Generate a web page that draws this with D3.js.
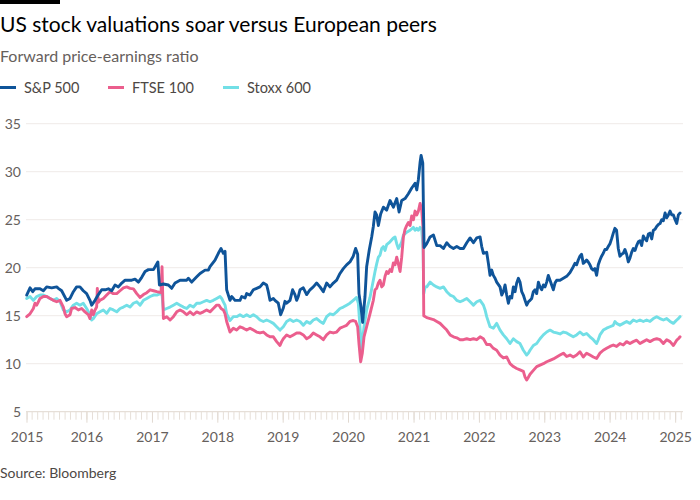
<!DOCTYPE html>
<html><head><meta charset="utf-8">
<script src="https://cdn.jsdelivr.net/npm/d3@7/dist/d3.min.js"></script>
<style>
html,body{margin:0;padding:0;background:#fff;}
svg{display:block;font-family:Lato,"Noto Sans",sans-serif;}
</style></head>
<body>
<script>
// ---------- DATA (decimal year, forward P/E) ----------
const seriesNames = ["S&P 500", "FTSE 100", "Stoxx 600"];
const yTicks = [5, 10, 15, 20, 25, 30, 35];
const xTickLabels = ["2015","2016","2017","2018","2019","2020","2021","2022","2023","2024","2025"];
const xDomain = [2015.083, 2025.12];

const sp500 = [[2015.086,17.15],[2015.137,17.9],[2015.178,17.5],[2015.213,17.8],[2015.290,17.8],[2015.341,17.6],[2015.392,18.0],[2015.468,17.9],[2015.545,18.0],[2015.570,17.85],[2015.621,17.6],[2015.698,16.6],[2015.749,16.8],[2015.800,17.5],[2015.850,18.0],[2015.901,18.0],[2015.952,17.6],[2016.003,17.3],[2016.054,16.6],[2016.080,16.1],[2016.131,16.6],[2016.182,17.2],[2016.233,17.7],[2016.284,17.7],[2016.335,17.8],[2016.386,17.6],[2016.437,18.2],[2016.488,18.0],[2016.539,18.4],[2016.590,18.7],[2016.692,18.7],[2016.742,18.8],[2016.793,18.5],[2016.844,19.0],[2016.895,19.6],[2016.946,19.8],[2017.023,19.8],[2017.090,20.6],[2017.114,18.2],[2017.175,18.3],[2017.251,18.2],[2017.302,17.85],[2017.353,18.4],[2017.430,18.7],[2017.532,18.7],[2017.557,18.9],[2017.608,18.5],[2017.685,19.05],[2017.736,19.4],[2017.812,19.75],[2017.863,19.75],[2017.888,20.1],[2017.965,20.8],[2018.016,21.5],[2018.057,22.0],[2018.092,21.5],[2018.118,21.7],[2018.143,17.7],[2018.194,16.6],[2018.220,17.0],[2018.271,16.6],[2018.347,16.6],[2018.373,17.0],[2018.424,16.85],[2018.449,17.3],[2018.500,17.15],[2018.551,17.7],[2018.602,17.85],[2018.653,18.0],[2018.704,18.4],[2018.755,18.2],[2018.780,17.5],[2018.806,16.6],[2018.857,16.8],[2018.882,16.6],[2018.933,16.3],[2018.969,15.1],[2019.010,15.8],[2019.035,16.5],[2019.061,16.3],[2019.112,16.6],[2019.152,17.7],[2019.188,17.2],[2019.214,16.6],[2019.239,17.0],[2019.265,17.7],[2019.316,17.9],[2019.367,17.2],[2019.418,17.7],[2019.469,18.0],[2019.520,18.4],[2019.571,18.0],[2019.622,17.5],[2019.673,18.4],[2019.724,18.0],[2019.775,18.4],[2019.826,18.7],[2019.877,19.4],[2019.928,19.9],[2019.978,20.3],[2020.029,20.6],[2020.080,21.2],[2020.116,22.0],[2020.147,21.4],[2020.167,17.3],[2020.198,15.9],[2020.223,14.3],[2020.259,17.0],[2020.284,20.1],[2020.325,21.9],[2020.361,23.2],[2020.386,24.3],[2020.412,25.8],[2020.437,25.5],[2020.463,24.4],[2020.498,25.6],[2020.539,26.3],[2020.590,26.0],[2020.641,27.0],[2020.692,26.3],[2020.743,27.2],[2020.779,25.8],[2020.819,27.0],[2020.870,27.2],[2020.921,27.7],[2020.972,28.3],[2021.023,28.8],[2021.049,28.1],[2021.074,29.2],[2021.100,31.0],[2021.115,31.7],[2021.141,30.9],[2021.151,26.3],[2021.161,22.1],[2021.202,22.5],[2021.253,23.2],[2021.304,23.4],[2021.355,22.3],[2021.406,22.3],[2021.457,22.0],[2021.508,22.6],[2021.559,22.2],[2021.610,22.0],[2021.661,22.2],[2021.712,22.0],[2021.763,22.0],[2021.814,22.6],[2021.865,23.1],[2021.916,22.6],[2021.967,23.1],[2022.018,23.2],[2022.043,22.2],[2022.069,21.5],[2022.119,21.6],[2022.145,20.45],[2022.170,19.2],[2022.196,19.75],[2022.221,19.2],[2022.247,18.9],[2022.272,18.5],[2022.323,18.0],[2022.349,17.15],[2022.374,17.5],[2022.400,18.2],[2022.425,17.15],[2022.451,16.3],[2022.476,17.0],[2022.502,16.85],[2022.527,18.0],[2022.553,17.5],[2022.578,18.4],[2022.604,18.9],[2022.629,18.5],[2022.655,17.5],[2022.680,17.15],[2022.706,16.6],[2022.731,16.1],[2022.757,16.45],[2022.782,16.6],[2022.808,16.8],[2022.833,17.5],[2022.859,17.7],[2022.884,17.3],[2022.910,18.5],[2022.935,18.0],[2022.961,17.7],[2022.986,18.2],[2023.012,18.0],[2023.037,18.5],[2023.062,19.2],[2023.088,18.7],[2023.113,18.2],[2023.139,17.7],[2023.164,18.4],[2023.190,18.7],[2023.241,18.7],[2023.292,18.9],[2023.343,19.1],[2023.394,19.5],[2023.444,20.1],[2023.469,20.45],[2023.495,20.3],[2023.520,20.8],[2023.546,21.2],[2023.571,21.4],[2023.597,20.45],[2023.622,20.6],[2023.648,20.8],[2023.673,20.6],[2023.699,20.3],[2023.724,19.9],[2023.750,19.75],[2023.775,19.9],[2023.801,19.2],[2023.826,20.3],[2023.852,20.8],[2023.877,21.2],[2023.903,21.5],[2023.928,21.9],[2023.954,21.9],[2023.979,22.2],[2024.005,22.5],[2024.030,23.0],[2024.056,23.6],[2024.081,24.1],[2024.106,23.9],[2024.132,22.0],[2024.157,21.2],[2024.183,21.4],[2024.208,21.5],[2024.234,21.9],[2024.259,21.4],[2024.285,20.6],[2024.310,21.0],[2024.336,21.6],[2024.361,22.0],[2024.387,21.8],[2024.412,22.3],[2024.438,22.7],[2024.463,22.8],[2024.489,22.3],[2024.514,23.3],[2024.540,23.0],[2024.565,22.8],[2024.591,23.5],[2024.616,23.6],[2024.642,23.0],[2024.667,23.9],[2024.693,24.0],[2024.718,24.3],[2024.744,24.5],[2024.769,24.6],[2024.795,25.0],[2024.820,24.9],[2024.846,25.7],[2024.871,25.2],[2024.897,25.5],[2024.922,25.9],[2024.948,25.5],[2024.973,25.5],[2024.999,25.0],[2025.024,24.6],[2025.049,25.5],[2025.075,25.7]];

const ftse100 = [[2015.086,14.9],[2015.137,15.2],[2015.188,15.75],[2015.213,16.3],[2015.239,16.1],[2015.264,16.45],[2015.290,16.8],[2015.341,17.0],[2015.392,17.0],[2015.443,16.8],[2015.494,16.6],[2015.545,16.45],[2015.596,16.6],[2015.647,15.9],[2015.672,15.2],[2015.698,14.9],[2015.749,15.1],[2015.774,15.75],[2015.825,15.85],[2015.876,15.6],[2015.927,15.75],[2015.978,15.4],[2016.029,15.1],[2016.054,14.7],[2016.080,15.6],[2016.105,15.1],[2016.131,15.6],[2016.156,15.9],[2016.166,17.85],[2016.182,16.4],[2016.207,16.6],[2016.258,16.8],[2016.309,17.15],[2016.360,17.5],[2016.411,17.3],[2016.462,17.3],[2016.513,17.6],[2016.564,17.9],[2016.615,18.0],[2016.666,17.85],[2016.717,17.8],[2016.768,17.3],[2016.819,16.9],[2016.870,17.2],[2016.921,17.4],[2016.972,17.7],[2017.023,17.6],[2017.074,17.5],[2017.139,17.4],[2017.154,20.1],[2017.165,17.0],[2017.175,14.7],[2017.226,14.9],[2017.277,14.55],[2017.328,14.9],[2017.379,15.4],[2017.430,15.6],[2017.481,15.4],[2017.532,15.1],[2017.583,15.4],[2017.634,15.1],[2017.685,15.4],[2017.736,15.25],[2017.787,15.4],[2017.837,15.6],[2017.888,15.4],[2017.939,15.75],[2017.990,16.1],[2018.026,16.1],[2018.057,15.75],[2018.092,15.6],[2018.118,15.2],[2018.143,14.4],[2018.169,13.85],[2018.194,13.3],[2018.245,13.7],[2018.296,13.5],[2018.347,13.85],[2018.398,13.7],[2018.449,13.5],[2018.500,13.7],[2018.551,13.5],[2018.602,13.3],[2018.653,13.2],[2018.704,13.3],[2018.755,13.0],[2018.806,12.8],[2018.857,12.8],[2018.908,12.3],[2018.959,11.9],[2018.984,12.3],[2019.010,12.6],[2019.061,13.0],[2019.112,12.8],[2019.163,13.0],[2019.214,13.2],[2019.265,13.2],[2019.316,13.0],[2019.367,12.6],[2019.418,12.8],[2019.469,13.2],[2019.520,13.0],[2019.571,12.8],[2019.622,12.5],[2019.673,13.0],[2019.724,13.3],[2019.775,13.2],[2019.826,13.3],[2019.877,13.7],[2019.928,13.85],[2019.978,14.0],[2020.029,14.4],[2020.080,14.5],[2020.116,14.4],[2020.147,13.85],[2020.167,12.1],[2020.193,10.2],[2020.218,11.1],[2020.244,12.8],[2020.284,13.85],[2020.335,15.2],[2020.386,16.6],[2020.412,17.7],[2020.437,17.85],[2020.463,18.4],[2020.488,18.7],[2020.514,18.0],[2020.539,18.2],[2020.565,19.1],[2020.590,19.6],[2020.615,19.4],[2020.641,19.8],[2020.666,19.6],[2020.692,20.5],[2020.717,20.3],[2020.743,21.1],[2020.768,20.4],[2020.794,19.6],[2020.819,21.1],[2020.845,23.2],[2020.870,24.0],[2020.896,24.4],[2020.921,24.7],[2020.947,24.4],[2020.972,25.4],[2020.998,25.0],[2021.023,25.9],[2021.049,25.5],[2021.074,25.9],[2021.100,26.7],[2021.125,26.0],[2021.146,24.0],[2021.156,15.0],[2021.202,14.8],[2021.253,14.7],[2021.304,14.6],[2021.355,14.4],[2021.406,14.2],[2021.457,13.85],[2021.508,13.5],[2021.559,13.0],[2021.610,12.8],[2021.661,12.7],[2021.712,12.5],[2021.763,12.5],[2021.814,12.6],[2021.865,12.5],[2021.916,12.6],[2021.967,12.5],[2022.018,12.8],[2022.069,12.6],[2022.094,12.3],[2022.119,12.0],[2022.170,12.0],[2022.221,11.6],[2022.272,11.4],[2022.323,10.9],[2022.374,10.6],[2022.425,10.7],[2022.476,10.0],[2022.527,9.7],[2022.578,9.5],[2022.629,9.35],[2022.680,9.2],[2022.706,8.6],[2022.731,8.3],[2022.757,8.6],[2022.782,8.9],[2022.833,9.3],[2022.884,9.7],[2022.935,9.85],[2022.986,10.0],[2023.037,10.2],[2023.088,10.35],[2023.139,10.5],[2023.190,10.7],[2023.241,10.9],[2023.292,11.1],[2023.343,10.75],[2023.394,10.9],[2023.444,10.7],[2023.495,10.9],[2023.546,11.25],[2023.597,10.7],[2023.648,11.1],[2023.699,10.9],[2023.750,10.7],[2023.801,10.55],[2023.852,11.1],[2023.903,11.4],[2023.954,11.6],[2024.005,11.8],[2024.056,11.95],[2024.106,11.8],[2024.157,12.1],[2024.208,11.95],[2024.259,12.3],[2024.310,12.1],[2024.361,12.3],[2024.412,12.45],[2024.463,12.1],[2024.514,12.3],[2024.565,12.5],[2024.616,12.3],[2024.667,12.5],[2024.718,12.6],[2024.769,12.5],[2024.820,12.1],[2024.871,12.5],[2024.922,12.3],[2024.973,11.9],[2025.024,12.45],[2025.049,12.6],[2025.075,12.8]];

const stoxx600 = [[2015.086,16.8],[2015.137,17.0],[2015.188,16.6],[2015.239,17.0],[2015.290,17.15],[2015.341,17.15],[2015.392,17.0],[2015.443,16.8],[2015.494,16.6],[2015.545,16.8],[2015.596,16.45],[2015.647,15.6],[2015.698,15.4],[2015.749,15.6],[2015.800,16.1],[2015.850,16.3],[2015.901,16.1],[2015.952,16.3],[2016.003,15.75],[2016.054,15.1],[2016.080,14.55],[2016.105,14.7],[2016.156,15.2],[2016.207,15.4],[2016.258,15.6],[2016.309,15.25],[2016.360,15.75],[2016.411,15.6],[2016.462,15.4],[2016.513,15.75],[2016.564,15.9],[2016.615,16.1],[2016.666,15.9],[2016.717,16.3],[2016.768,16.45],[2016.819,16.1],[2016.870,16.6],[2016.921,16.8],[2016.972,17.0],[2017.023,17.15],[2017.074,17.15],[2017.124,17.3],[2017.154,17.2],[2017.175,15.6],[2017.226,15.75],[2017.277,15.9],[2017.328,16.1],[2017.379,16.3],[2017.430,16.1],[2017.481,15.9],[2017.532,15.75],[2017.583,16.1],[2017.634,15.9],[2017.685,16.3],[2017.736,16.3],[2017.787,16.45],[2017.837,16.6],[2017.888,16.45],[2017.939,16.6],[2017.990,16.8],[2018.041,17.0],[2018.067,16.8],[2018.092,16.45],[2018.118,16.1],[2018.143,15.2],[2018.194,14.5],[2018.245,14.9],[2018.296,14.9],[2018.347,15.1],[2018.398,14.9],[2018.449,15.1],[2018.500,14.9],[2018.551,15.1],[2018.602,14.9],[2018.653,14.55],[2018.704,14.4],[2018.755,14.55],[2018.806,14.4],[2018.857,14.2],[2018.908,13.85],[2018.959,13.5],[2019.010,13.85],[2019.061,14.4],[2019.112,14.6],[2019.163,14.4],[2019.214,14.55],[2019.265,14.4],[2019.316,14.0],[2019.367,14.4],[2019.418,14.2],[2019.469,14.55],[2019.520,14.7],[2019.571,14.4],[2019.622,14.2],[2019.673,14.9],[2019.724,15.2],[2019.775,15.1],[2019.826,15.4],[2019.877,15.75],[2019.928,15.9],[2019.978,16.1],[2020.029,16.3],[2020.080,16.6],[2020.106,16.75],[2020.131,16.9],[2020.157,16.3],[2020.182,13.85],[2020.208,11.5],[2020.244,13.85],[2020.284,15.6],[2020.335,16.9],[2020.386,18.7],[2020.412,19.6],[2020.437,20.4],[2020.463,21.1],[2020.488,21.3],[2020.514,22.0],[2020.539,22.2],[2020.565,21.8],[2020.590,22.4],[2020.641,22.7],[2020.692,23.1],[2020.717,23.2],[2020.743,22.5],[2020.768,22.0],[2020.794,22.3],[2020.819,22.7],[2020.845,23.4],[2020.896,23.7],[2020.947,23.9],[2020.998,24.2],[2021.023,23.9],[2021.049,24.1],[2021.074,23.9],[2021.100,24.2],[2021.125,24.0],[2021.146,22.0],[2021.156,17.3],[2021.176,18.0],[2021.202,18.0],[2021.253,18.5],[2021.304,18.2],[2021.355,18.0],[2021.406,17.85],[2021.457,18.0],[2021.508,17.5],[2021.559,17.15],[2021.610,17.0],[2021.661,16.6],[2021.712,16.45],[2021.763,16.6],[2021.814,16.8],[2021.865,16.45],[2021.916,16.1],[2021.967,16.45],[2022.018,16.6],[2022.069,16.1],[2022.094,15.6],[2022.119,14.9],[2022.170,13.85],[2022.221,13.7],[2022.272,14.2],[2022.323,13.5],[2022.374,13.0],[2022.425,12.6],[2022.476,12.1],[2022.527,12.6],[2022.578,12.3],[2022.629,12.1],[2022.680,11.4],[2022.731,10.9],[2022.757,11.1],[2022.782,11.4],[2022.833,11.9],[2022.884,12.1],[2022.935,12.6],[2022.986,13.0],[2023.037,13.3],[2023.088,13.5],[2023.139,13.3],[2023.190,13.2],[2023.241,13.1],[2023.292,13.3],[2023.343,13.2],[2023.394,13.0],[2023.444,12.8],[2023.495,13.0],[2023.546,13.3],[2023.597,13.0],[2023.648,13.15],[2023.699,12.8],[2023.750,12.5],[2023.801,12.1],[2023.826,12.5],[2023.852,13.0],[2023.903,13.5],[2023.954,13.7],[2024.005,13.85],[2024.056,14.0],[2024.081,14.4],[2024.106,14.2],[2024.157,14.0],[2024.208,14.2],[2024.259,14.4],[2024.310,14.2],[2024.361,14.55],[2024.412,14.4],[2024.463,14.55],[2024.514,14.4],[2024.565,14.55],[2024.616,14.4],[2024.667,14.7],[2024.718,14.9],[2024.769,14.7],[2024.820,14.55],[2024.871,14.7],[2024.922,14.4],[2024.973,14.2],[2025.024,14.55],[2025.049,14.7],[2025.075,14.9]];

const seriesData = [sp500, ftse100, stoxx600];
const seriesColors = ["#0f5499", "#eb5e8d", "#72dfe6"];

// ---------- helpers ----------
function toDate(t) {
  const y = Math.floor(t);
  const a = Date.UTC(y, 0, 1), b = Date.UTC(y + 1, 0, 1);
  return new Date(a + (t - y) * (b - a));
}

const W = 700, H = 500;
const svg = d3.select("body").append("svg").attr("width", W).attr("height", H);

const x = d3.scaleUtc().domain(xDomain.map(toDate)).range([26.5, 683]);
const y = d3.scaleLinear().domain([5, 35]).range([411.7, 123.7]);

// top black bar
svg.append("rect").attr("x", 0).attr("y", 0).attr("width", 60).attr("height", 4).attr("fill", "#000");

// title etc.
svg.append("text").attr("x", 0).attr("y", 32).attr("font-size", 21).attr("fill", "#000")
  .text("US stock valuations soar versus European peers");
svg.append("text").attr("x", 0).attr("y", 62).attr("font-size", 16).attr("fill", "#66605c")
  .text("Forward price-earnings ratio");

// legend
const legendX = [0, 108, 223];
seriesNames.forEach((n, i) => {
  const g = svg.append("g").attr("transform", `translate(${legendX[i]},0)`);
  g.append("line").attr("x1", 0).attr("x2", 16).attr("y1", 87.5).attr("y2", 87.5)
    .attr("stroke", seriesColors[i]).attr("stroke-width", 3);
  g.append("text").attr("x", 24).attr("y", 93).attr("font-size", 14.5).attr("fill", "#4d4845").text(n);
});

// gridlines
svg.append("g").selectAll("line").data(yTicks.filter(v => v !== 5)).join("line")
  .attr("x1", 26).attr("x2", 683).attr("y1", d => y(d)).attr("y2", d => y(d))
  .attr("stroke", "#efebe8").attr("stroke-width", 1);

// y labels
const yAxis = svg.append("g").attr("transform", "translate(21,0)")
  .call(d3.axisLeft(y).tickValues(yTicks).tickSize(0).tickPadding(0));
yAxis.select(".domain").remove();
yAxis.selectAll("text").attr("font-size", 14).attr("fill", "#66605c").attr("font-family", "Lato, 'Noto Sans', sans-serif");

// x axis: monthly minor ticks
const months = d3.utcMonth.range(toDate(xDomain[0]), toDate(xDomain[1]));
const minor = svg.append("g").attr("transform", `translate(0,${y(5)})`)
  .call(d3.axisBottom(x).tickValues(months).tickSize(8).tickFormat(""));
minor.select(".domain").remove();
minor.selectAll("line").attr("stroke", "#e6dfd8");

// major ticks + labels
const majorDates = xTickLabels.map((l, i) => i === 0 ? toDate(xDomain[0]) : new Date(Date.UTC(+l, 0, 1)));
const major = svg.append("g").attr("transform", `translate(0,${y(5)})`)
  .call(d3.axisBottom(x).tickValues(majorDates).tickSize(11).tickPadding(9)
    .tickFormat((d, i) => xTickLabels[i]));
major.select(".domain").remove();
major.selectAll("line").attr("stroke", "#e1d9d1");
major.selectAll("text").attr("font-size", 14).attr("fill", "#66605c").attr("font-family", "Lato, 'Noto Sans', sans-serif");

// baseline
svg.append("line").attr("x1", 26).attr("x2", 683).attr("y1", y(5)).attr("y2", y(5))
  .attr("stroke", "#e6dfd8").attr("stroke-width", 1.2);

// lines (draw Stoxx first, S&P last)
const line = d3.line().x(d => x(toDate(d[0]))).y(d => y(d[1])).curve(d3.curveLinear);
[2, 1, 0].forEach(i => {
  svg.append("path").datum(seriesData[i]).attr("d", line)
    .attr("fill", "none").attr("stroke", seriesColors[i]).attr("stroke-width", 2.9)
    .attr("stroke-linejoin", "round").attr("stroke-linecap", "round");
});

// source
svg.append("text").attr("x", 0).attr("y", 478).attr("font-size", 14).attr("fill", "#4d4845")
  .text("Source: Bloomberg");
</script>
</body></html>
